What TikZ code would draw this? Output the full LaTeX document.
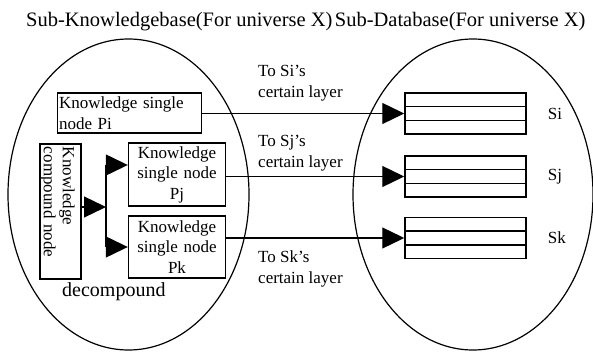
\documentclass[tikz,border=0pt]{standalone}
\usepackage{fontspec}
\setmainfont{Liberation Serif}
\usetikzlibrary{arrows.meta,calc}

\tikzset{
  lbl/.style={font=\fontsize{17}{20.5}\selectfont, inner sep=0pt},
  ttl/.style={font=\fontsize{20.5}{24}\selectfont, inner sep=0pt},
  kbox/.style={draw, line width=1.4pt, inner sep=1.5pt,
    font=\fontsize{17}{20.5}\selectfont},
  table/.style={draw, line width=1.5pt, minimum width=121pt, minimum height=41pt, inner sep=0pt},
  arr/.style={line width=1.3pt, -{Triangle[length=22pt,width=21pt]}},
  region/.style={line width=1.2pt}
}

\begin{document}
\begin{tikzpicture}[x=1pt,y=-1pt]
\useasboundingbox (0,0) rectangle (593,352);

% headings
\node[ttl, anchor=base west] (t1) at (26,27) {Sub-Knowledgebase(For universe X)};
\node[ttl, anchor=base west] (t2) at ([xshift=2pt]t1.base east) {Sub-Database(For universe X)};

% the two universes
\draw[region] (128.5,194.5) ellipse [x radius=120.5, y radius=155.5];
\draw[region] (473,194.5) ellipse [x radius=120, y radius=155.5];

% knowledge nodes
\node[kbox, text width=141pt, align=left, minimum height=40pt] (pi) at (129.5,113)
  {Knowledge single\\node Pi};
\node[kbox, minimum width=41pt, minimum height=135pt, inner sep=0pt] (cmp) at (60.5,211.5) {};
\node[font=\fontsize{17}{19}\selectfont, inner sep=0pt, rotate=-90, text width=129pt,
  align=left] (cmptxt) at (57.5,211.5) {Knowledge\\compound node};
\node[kbox, text width=94pt, align=center, minimum height=63pt] (pj) at (177,174.5)
  {Knowledge\\single node\\Pj};
\node[kbox, text width=94pt, align=center, minimum height=62pt] (pk) at (177,247)
  {Knowledge\\single node\\Pk};
\node[font=\fontsize{20}{24}\selectfont, inner sep=0pt, anchor=west] (dec) at (62,292) {decompound};

% layered tables
\foreach \n/\y in {si/113.5, sj/176.5, sk/238}{
  \node[table] (\n) at (465.5,\y) {};
  \draw[line width=1.3pt] ($(\n.north west)!1/3!(\n.south west)$) -- ($(\n.north east)!1/3!(\n.south east)$);
  \draw[line width=1.3pt] ($(\n.north west)!2/3!(\n.south west)$) -- ($(\n.north east)!2/3!(\n.south east)$);
}
\node[lbl, anchor=west] at ([xshift=21pt]si.east) {Si};
\node[lbl, anchor=west] at ([xshift=21pt]sj.east) {Sj};
\node[lbl, anchor=west] at ([xshift=21pt]sk.east) {Sk};

% decomposition fork
\coordinate (br) at (106,207);
\coordinate (bt) at (106,165);
\coordinate (bb) at (106,247);
\draw[arr] ([yshift=4.5pt]cmp.east) -- (br);
\draw[line width=1.3pt] (bt) -- (bb);
\draw[arr] (bt) -- (bt -| pj.west);
\draw[arr] (bb) -- (bb -| pk.west);

% links into the tables
\draw[arr] (pi.east |- si) -- (si.west);
\draw[arr] (pj.east |- sj) -- (sj.west);
\draw[arr] (pk.east |- sk) -- (sk.west);

% link labels
\node[lbl, align=left, anchor=west] at (258,83) {To Si’s\\certain layer};
\node[lbl, align=left, anchor=west] at (258,153) {To Sj’s\\certain layer};
\node[lbl, align=left, anchor=west] at (258,269) {To Sk’s\\certain layer};
\end{tikzpicture}
\end{document}
